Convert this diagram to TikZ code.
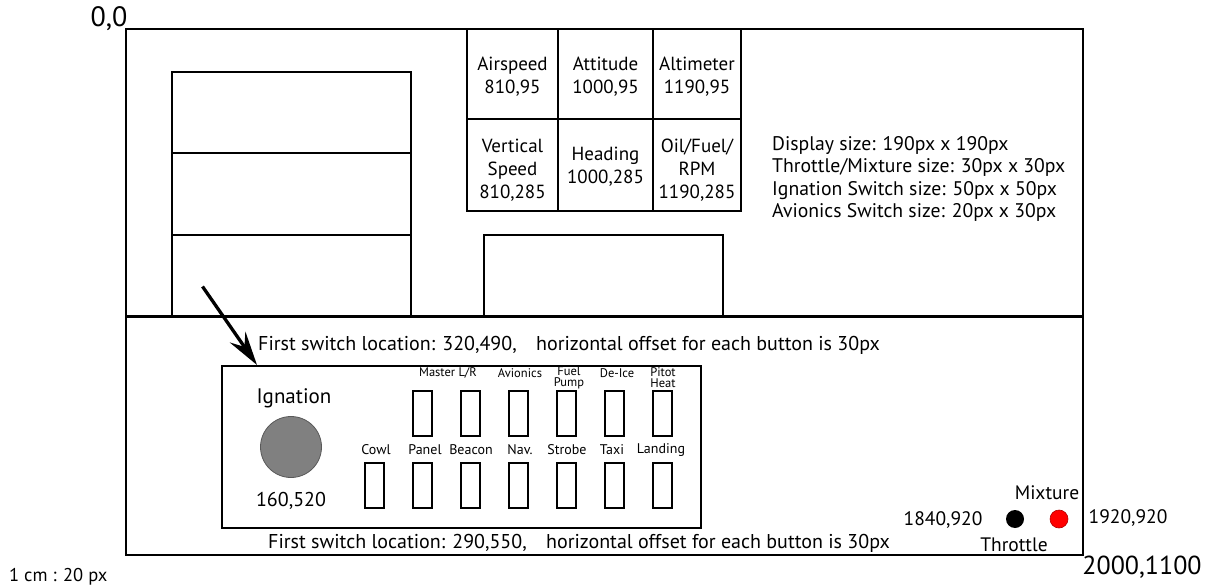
\documentclass[tikz,border=0pt]{standalone}
\usepackage{fontspec}
\setmainfont{PT Sans}
\usetikzlibrary{arrows.meta}
\tikzset{
  frame/.style={draw=black, line width=2.5pt},
  thin/.style={draw=black, line width=2pt},
  txt/.style={inner sep=0pt, align=center, text=black},
  inst/.style={txt, font=\fontsize{19}{23}\selectfont},
  info/.style={txt, align=left, anchor=west, font=\fontsize{19.7}{22.5}\selectfont},
  note/.style={txt, font=\fontsize{20}{22}\selectfont},
  swlab/.style={txt, font=\fontsize{12.5}{11}\selectfont},
  lowlab/.style={txt, font=\fontsize{14}{15}\selectfont},
  dotlab/.style={txt, font=\fontsize{19.5}{22}\selectfont},
  switchbox/.style={draw=black, line width=2pt, minimum width=19pt, minimum height=45pt, inner sep=0pt},
  knob/.style={circle, inner sep=0pt},
  pointer/.style={draw=black, line width=3.3pt, -{Stealth[length=34pt 0, width=19pt 0, inset=12pt 0]}},
}
\begin{document}
\begin{tikzpicture}[x=1pt,y=-1pt]
\useasboundingbox (0,0) rectangle (1212,585);
% outer frame and divider
\draw[frame] (126,29) rectangle (1083,555);
\draw[draw=black, line width=3pt] (126,316) -- (1083,316);
% left stacked rectangles
\draw[thin] (172,316) -- (172,72) -- (411,72) -- (411,316);
\draw[thin] (172,153) -- (411,153);
\draw[thin] (172,235) -- (411,235);
% instrument grid
\draw[thin] (467,29) rectangle (741,211);
\draw[thin] (467,119) -- (741,119);
\draw[thin] (558,29) -- (558,211);
\draw[thin] (653,29) -- (653,211);
\node[inst] (airspeed) at (512.5,77) {Airspeed\\810,95};
\node[inst] (attitude) at (605.5,77) {Attitude\\1000,95};
\node[inst] (altimeter) at (697,77) {Altimeter\\1190,95};
\node[inst] (vspeed) at (512.5,170) {Vertical\\Speed\\810,285};
\node[inst] (heading) at (605.5,167) {Heading\\1000,285};
\node[inst] (oilfuel) at (697,170) {Oil/Fuel/\\RPM\\1190,285};
% bottom centre rectangle
\draw[thin] (484,316) -- (484,235) -- (723,235) -- (723,316);
% info text
\node[info] (info) at (772,179) {Display size: 190px x 190px\\Throttle/Mixture size: 30px x 30px\\Ignation Switch size: 50px x 50px\\Avionics Switch size: 20px x 30px};
% corner labels
\node[txt, font=\fontsize{28}{30}\selectfont] (origin) at (109,19) {0,0};
\node[txt, font=\fontsize{26}{28}\selectfont] (corner) at (1142,567) {2000,1100};
\node[txt, font=\fontsize{18.5}{20}\selectfont, anchor=west] (scale) at (9,577) {1 cm : 20 px};
% notes
\node[note, anchor=west] (note1) at (258,345) {First switch location: 320,490,\hspace{0.7em} horizontal offset for each button is 30px};
\node[note, anchor=west] (note2) at (268,543) {First switch location: 290,550,\hspace{0.7em} horizontal offset for each button is 30px};
% arrow
\coordinate (arrS) at (202.5,286.5);
\coordinate (arrE) at (257,365);
\draw[pointer] (arrS) -- (arrE);
% switch panel
\draw[frame] (222,366) rectangle (701,528);
\node[txt, font=\fontsize{21}{24}\selectfont] (ignlab) at (294,398) {Ignation};
\node[knob, fill=black!50, draw=black!65, line width=0.8pt, minimum size=61pt] (ign) at (291,447) {};
\node[txt, font=\fontsize{20}{24}\selectfont] (igncoord) at (291,501) {160,520};
% upper switches
\foreach \k in {1,...,6} {
  \node[switchbox] (up\k) at ({374.5+48*\k},413.5) {};
}
% lower switches
\foreach \k in {0,...,6} {
  \node[switchbox] (lo\k) at ({374.5+48*\k},485) {};
}
% upper labels
\node[swlab] (lmaster) at (448,373) {Master L/R};
\node[swlab] (lavion) at (520,373) {Avionics};
\node[swlab] (lfuel) at (569,377.5) {Fuel\\Pump};
\node[swlab] (ldeice) at (617,373) {De-Ice};
\node[swlab] (lpitot) at (663,377.5) {Pitot\\Heat};
% lower labels
\node[lowlab] (lcowl) at (376,450) {Cowl};
\node[lowlab] (lpanel) at (425,450) {Panel};
\node[lowlab] (lbeacon) at (471,450) {Beacon};
\node[lowlab] (lnav) at (520,450) {Nav.};
\node[lowlab] (lstrobe) at (567,450) {Strobe};
\node[lowlab] (ltaxi) at (612,450) {Taxi};
\node[lowlab] (llanding) at (661,450) {Landing};
% throttle / mixture
\node[knob, fill=black, minimum size=18pt] (throttle) at (1015,519) {};
\node[knob, fill=red, draw=red!70!black, line width=0.6pt, minimum size=18pt] (mixture) at (1059,519) {};
\node[dotlab] (lmix) at (1047,493) {Mixture};
\node[dotlab] (lthr) at (1014,545) {Throttle};
\node[dotlab] (cthr) at (943,520) {1840,920};
\node[dotlab] (cmix) at (1128,518) {1920,920};
\end{tikzpicture}
\end{document}
